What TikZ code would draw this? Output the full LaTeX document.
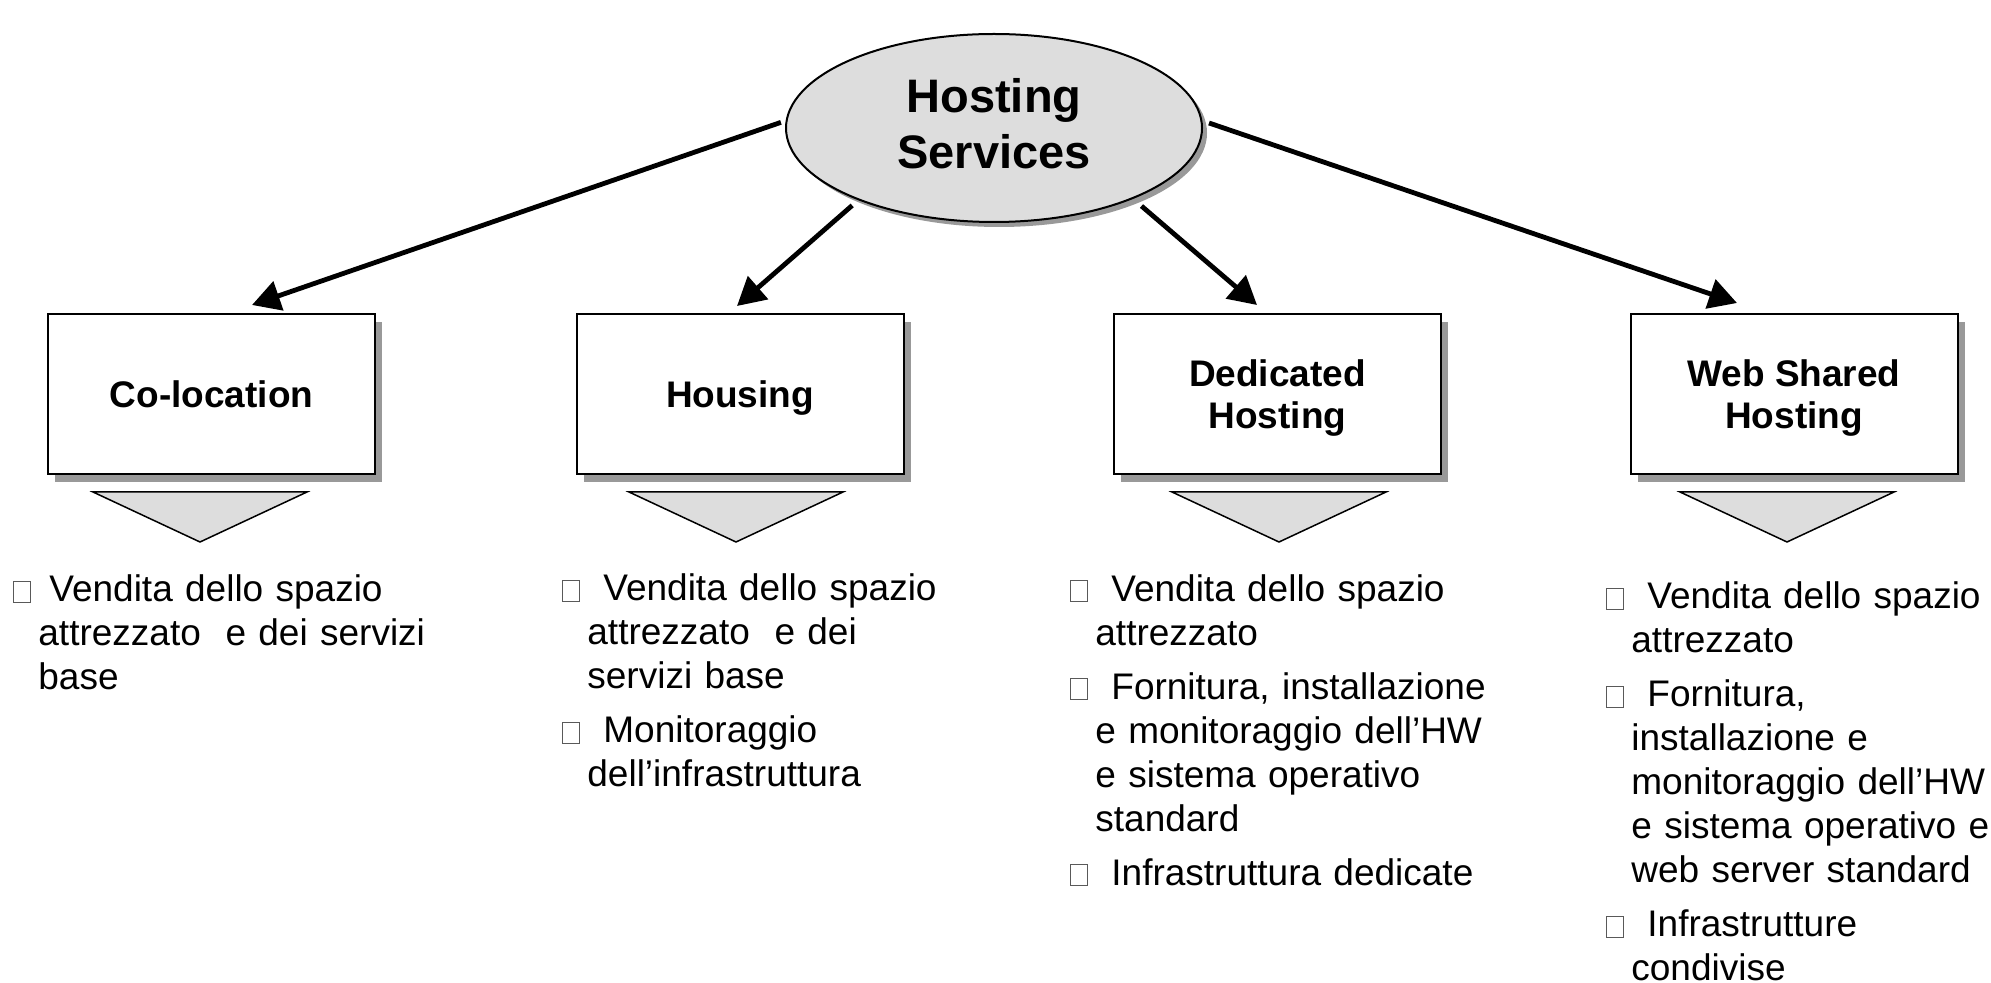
\documentclass[tikz,border=0pt]{standalone}
\usepackage{fontspec}
\setmainfont{Liberation Sans}
\usetikzlibrary{shapes.geometric,shadows,arrows.meta}

\definecolor{lightgrey}{HTML}{DDDDDD}
\definecolor{shadowgrey}{HTML}{999999}
\newcommand{\tofu}{{\color{black!65}\setlength{\fboxsep}{0pt}\setlength{\fboxrule}{0.5pt}\fbox{\rule{0pt}{10pt}\hspace{8pt}}}}
\newcommand{\bitem}[2][11.5pt]{\par\parskip=5pt\hangindent=12.5pt\hangafter=1\noindent\strut\tofu\hspace{#1}#2\par}

\tikzstyle{Service}=[ellipse, draw=black, line width=1pt, fill=lightgrey, minimum width=208pt, minimum height=94pt, align=center, text depth=5pt, font=\fontsize{23.5}{28}\selectfont\bfseries, drop shadow={shadow xshift=2.5pt, shadow yshift=-2.5pt, fill=shadowgrey, opacity=1}]
\tikzstyle{Box}=[rectangle, draw=black, line width=1pt, fill=white, minimum width=163.5pt, minimum height=80pt, align=center, text depth=0pt, font=\fontsize{18.5}{21}\selectfont\bfseries, drop shadow={shadow xshift=3.5pt, shadow yshift=-4pt, fill=shadowgrey, opacity=1}]
\tikzstyle{Funnel}=[draw=black, line width=0.75pt, fill=lightgrey]
\tikzstyle{Items}=[anchor=north west, inner sep=0pt, text width=240pt, align=left, font=\fontsize{18.5}{22}\selectfont]
\tikzstyle{Arrow}=[line width=2.4pt, -{Triangle[length=14pt,width=15pt]}]

\begin{document}
\begin{tikzpicture}[x=0.5pt, y=-0.5pt]
    \useasboundingbox (0,0) rectangle (1991,983);

    \path
    (994,128) node[Service] (hosting) {Hosting\\Services}
    (211.5,394) node[Box] (colo) {Co-location}
    (740,394) node[Box] (housing) {Housing}
    (1277.5,394) node[Box] (dedicated) {Dedicated\\Hosting}
    (1794,394) node[Box] (webshared) {Web Shared\\Hosting};

    \foreach \x in {93,629,1172,1680}
        \draw[Funnel] (\x,492) -- ++(214,0) -- ++(-107,50) -- cycle;

    \draw[Arrow, shorten <=2.5pt] (hosting.178) -- ([xshift=20.25pt, yshift=4pt]colo.north);
    \draw[Arrow, shorten <=4pt] (hosting.208) -- ([xshift=-1.5pt, yshift=3.5pt]housing.north);
    \draw[Arrow, shorten <=5.5pt] (hosting.333) -- ([xshift=-10.25pt, yshift=4pt]dedicated.north);
    \draw[Arrow, shorten <=3.5pt] (hosting.2) -- ([xshift=-28.5pt, yshift=5pt]webshared.north);

    \path
    (13,547.5) node[Items] (coloitems) {\bitem[9pt]{Vendita dello spazio\newline attrezzato~ e dei servizi\newline base}}
    (562,546.5) node[Items] (housingitems) {\bitem{Vendita dello spazio\newline attrezzato~ e dei\newline servizi base}\bitem{Monitoraggio\newline dell’infrastruttura}}
    (1070,547) node[Items] (dedicateditems) {\bitem{Vendita dello spazio\newline attrezzato}\bitem{Fornitura, installazione\newline e monitoraggio dell’HW\newline e sistema operativo\newline standard}\bitem{Infrastruttura dedicate}}
    (1606,554.5) node[Items] (webshareditems) {\bitem{Vendita dello spazio\newline attrezzato}\bitem{Fornitura,\newline installazione e\newline monitoraggio dell’HW\newline e sistema operativo e\newline web server standard}\bitem{Infrastrutture\newline condivise}};
\end{tikzpicture}
\end{document}
